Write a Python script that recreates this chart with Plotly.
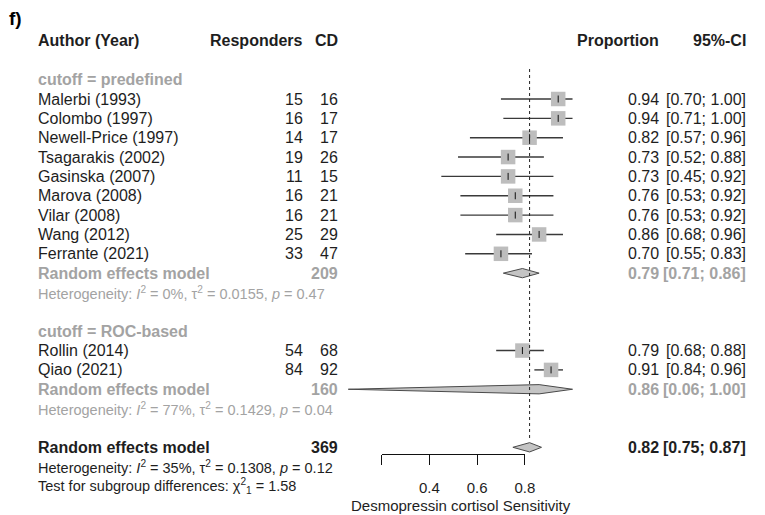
import plotly.graph_objects as go

# ---------------- data ----------------
authors = ["Malerbi (1993)", "Colombo (1997)", "Newell-Price (1997)", "Tsagarakis (2002)",
           "Gasinska (2007)", "Marova (2008)", "Vilar (2008)", "Wang (2012)", "Ferrante (2021)",
           "Rollin (2014)", "Qiao (2021)"]
responders = [15, 16, 14, 19, 11, 16, 16, 25, 33, 54, 84]
cd_total = [16, 17, 17, 26, 15, 21, 21, 29, 47, 68, 92]
groups = ["predefined"] * 9 + ["ROC-based"] * 2
prop = [0.94, 0.94, 0.82, 0.73, 0.73, 0.76, 0.76, 0.86, 0.70, 0.79, 0.91]
ci_low = [0.70, 0.71, 0.57, 0.52, 0.45, 0.53, 0.53, 0.68, 0.55, 0.68, 0.84]
ci_high = [1.00, 1.00, 0.96, 0.88, 0.92, 0.92, 0.92, 0.96, 0.83, 0.88, 0.96]

group_names = ["predefined", "ROC-based"]
group_total = [209, 160]
group_prop = [0.79, 0.86]
group_low = [0.71, 0.06]
group_high = [0.86, 1.00]
group_i2 = ["0%", "77%"]
group_tau2 = ["0.0155", "0.1429"]
group_p = ["0.47", "0.04"]

overall_total = 369
overall_prop = 0.82
overall_low = 0.75
overall_high = 0.87
overall_i2 = "35%"
overall_tau2 = "0.1308"
overall_p = "0.12"
subgroup_chi2 = "1.58"

tick_vals = [0.2, 0.4, 0.6, 0.8]
tick_text = ["", "0.4", "0.6", "0.8"]
x_label = "Desmopressin cortisol Sensitivity"

# ---------------- layout helpers ----------------
W, H = 765, 515
ROW0_PX, ROW_PX = 99.0, 19.35        # pixel y of first study row, row spacing
X0_PX, UNIT_PX = 338.4, 241.7        # pixel x of proportion 0, pixels per unit

FONT = "Liberation Sans, Arial, Helvetica, sans-serif"
BLACK = "#1e1e1e"
GREY = "#a3a3a3"
FS = 16
FS_HET = 14.5


def px(x):
    return x / W


# row positions
study_rows = []
group_rows = []
r = -1
for g in group_names:
    label_row = r
    r += 1
    for i, gg in enumerate(groups):
        if gg == g:
            study_rows.append((i, r))
            r += 1
    re_row = r
    het_row = r + 1
    group_rows.append((label_row, re_row, het_row))
    r += 3
overall_row = r
overall_het_row = overall_row + 1
test_row = overall_row + 2
header_row = -3

fig = go.Figure()

# reference (dotted) line
fig.add_shape(type="line", xref="x", yref="y", x0=overall_prop, x1=overall_prop,
              y0=-1.55, y1=overall_row - 0.38,
              line=dict(color="#222", width=1, dash="dot"))

# CI lines
xs, ys = [], []
for i, rr in study_rows:
    xs += [ci_low[i], ci_high[i], None]
    ys += [rr, rr, None]
fig.add_trace(go.Scatter(x=xs, y=ys, mode="lines", line=dict(color="#3a3a3a", width=1.4),
                         hoverinfo="skip", showlegend=False))

# squares
fig.add_trace(go.Scatter(x=[prop[i] for i, _ in study_rows], y=[rr for _, rr in study_rows],
                         mode="markers",
                         marker=dict(symbol="square", size=14.5, color="#bdbdbd", line=dict(width=0)),
                         hoverinfo="skip", showlegend=False))
# estimate ticks inside squares
fig.add_trace(go.Scatter(x=[prop[i] for i, _ in study_rows], y=[rr for _, rr in study_rows],
                         mode="markers",
                         marker=dict(symbol="line-ns-open", size=5, color="#111", line=dict(width=1, color="#111")),
                         hoverinfo="skip", showlegend=False))


def diamond(est, lo, hi, row, half=0.24):
    fig.add_trace(go.Scatter(x=[lo, est, hi, est, lo], y=[row, row - half, row, row + half, row],
                             mode="lines", fill="toself", fillcolor="#c4c4c4",
                             line=dict(color="#4a4a4a", width=1),
                             hoverinfo="skip", showlegend=False))


for k in range(len(group_names)):
    diamond(group_prop[k], group_low[k], group_high[k], group_rows[k][1])
diamond(overall_prop, overall_low, overall_high, overall_row)

# axis carrier trace (visible x axis 0.2 - 0.8)
fig.add_trace(go.Scatter(x=[tick_vals[0], tick_vals[-1]], y=[None, None], xaxis="x2", yaxis="y",
                         mode="markers", marker=dict(opacity=0), hoverinfo="skip", showlegend=False))

ann = []


def text(x_px, row, s, anchor="left", color=BLACK, bold=False, size=FS):
    if bold:
        s = "<b>" + s + "</b>"
    ann.append(dict(x=px(x_px), y=row, xref="paper", yref="y", text=s, showarrow=False,
                    xanchor=anchor, yanchor="middle",
                    font=dict(family=FONT, size=size, color=color)))


# column positions (pixels)
C_AUTH, C_RESP, C_CD, C_PROP, C_CI = 36, 309, 344, 670, 758

# title / headers
ann.append(dict(x=px(7), y=1 - 18 / H, xref="paper", yref="paper", text="<b>f)</b>", showarrow=False,
                xanchor="left", yanchor="middle", font=dict(family=FONT, size=19, color="#000")))
text(C_AUTH, header_row, "Author (Year)", bold=True)
text(C_RESP, header_row, "Responders", anchor="right", bold=True)
text(C_CD, header_row, "CD", anchor="right", bold=True)
text(C_PROP, header_row, "Proportion", anchor="right", bold=True)
text(C_CI, header_row, "95%-CI", anchor="right", bold=True)

for i, rr in study_rows:
    text(C_AUTH, rr, authors[i])
    text(C_RESP, rr, str(responders[i]), anchor="right")
    text(C_CD, rr, str(cd_total[i]), anchor="right")
    text(C_PROP, rr, f"{prop[i]:.2f}", anchor="right")
    text(C_CI, rr, f"[{ci_low[i]:.2f}; {ci_high[i]:.2f}]", anchor="right")

for k, g in enumerate(group_names):
    lr, rer, hr = group_rows[k]
    text(C_AUTH, lr, f"cutoff = {g}", color=GREY, bold=True)
    text(C_AUTH, rer, "Random effects model", color=GREY, bold=True)
    text(C_CD, rer, str(group_total[k]), anchor="right", color=GREY, bold=True)
    text(C_PROP, rer, f"{group_prop[k]:.2f}", anchor="right", color=GREY, bold=True)
    text(C_CI, rer, f"[{group_low[k]:.2f}; {group_high[k]:.2f}]", anchor="right", color=GREY, bold=True)
    text(C_AUTH, hr, f"Heterogeneity: <i>I</i><sup>2</sup> = {group_i2[k]}, τ<sup>2</sup> = {group_tau2[k]}, <i>p</i> = {group_p[k]}",
         color=GREY, size=FS_HET)

text(C_AUTH, overall_row, "Random effects model", bold=True)
text(C_CD, overall_row, str(overall_total), anchor="right", bold=True)
text(C_PROP, overall_row, f"{overall_prop:.2f}", anchor="right", bold=True)
text(C_CI, overall_row, f"[{overall_low:.2f}; {overall_high:.2f}]", anchor="right", bold=True)
text(C_AUTH, overall_het_row, f"Heterogeneity: <i>I</i><sup>2</sup> = {overall_i2}, τ<sup>2</sup> = {overall_tau2}, <i>p</i> = {overall_p}",
     size=FS_HET)
text(C_AUTH, test_row, f"Test for subgroup differences: χ<sup>2</sup><sub>1</sub> = {subgroup_chi2}", size=FS_HET)

# x axis label
ann.append(dict(x=px(467), y=1 - 505 / H, xref="paper", yref="paper", text=x_label, showarrow=False,
                xanchor="center", yanchor="middle", font=dict(family=FONT, size=FS_HET + 0.5, color=BLACK)))

y_top = -ROW0_PX / ROW_PX
y_bot = (H - ROW0_PX) / ROW_PX
x_left = -X0_PX / UNIT_PX
x_right = (W - X0_PX) / UNIT_PX
ax2_lo = (X0_PX + tick_vals[0] * UNIT_PX) / W
ax2_hi = (X0_PX + tick_vals[-1] * UNIT_PX) / W

fig.update_layout(
    width=W, height=H, margin=dict(l=0, r=0, t=0, b=0),
    paper_bgcolor="white", plot_bgcolor="rgba(0,0,0,0)",
    annotations=ann, showlegend=False,
    xaxis=dict(range=[x_left, x_right], domain=[0, 1], visible=False, fixedrange=True),
    yaxis=dict(range=[y_bot, y_top], domain=[0, 1], visible=False, fixedrange=True),
    xaxis2=dict(range=[tick_vals[0], tick_vals[-1]], domain=[ax2_lo, ax2_hi], anchor="free",
                position=1 - 454 / H, showgrid=False, zeroline=False, showline=True,
                linecolor="#111", linewidth=1, ticks="outside", ticklen=10, tickwidth=1,
                tickcolor="#111", tickvals=tick_vals, ticktext=tick_text, ticklabelstandoff=10,
                tickfont=dict(family=FONT, size=FS_HET + 0.5, color=BLACK), fixedrange=True),
)

fig.write_html("out.html", config={"displayModeBar": False},
               post_script="document.body.style.margin='0';")
